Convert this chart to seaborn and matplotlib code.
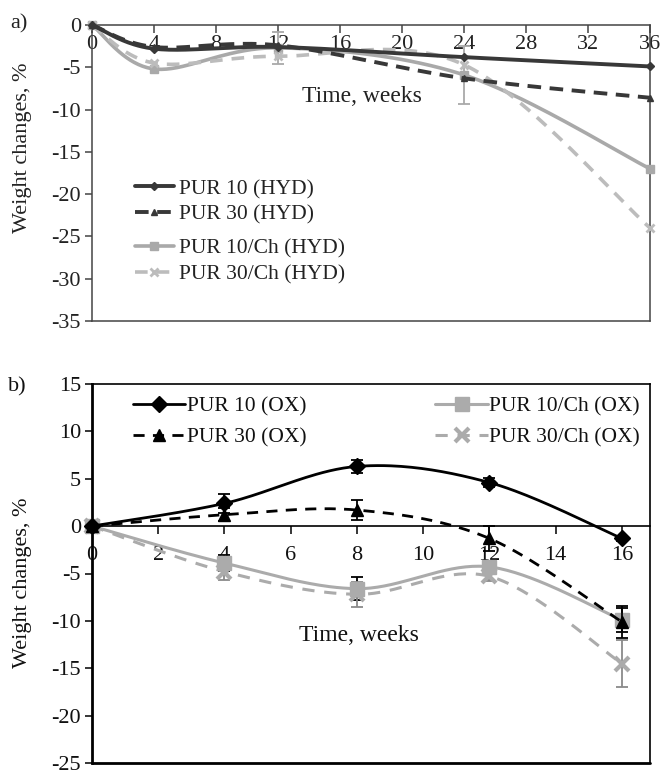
import numpy as np
import pandas as pd
import matplotlib
matplotlib.use("Agg")
import matplotlib.pyplot as plt
import seaborn as sns
from matplotlib.lines import Line2D

# ---------------- data: panel a (hydrolytic degradation) ----------------
weeks_a = [0, 4, 12, 24, 36]
pur10_hyd = [0, -2.8, -2.6, -3.8, -4.9]
pur30_hyd = [0, -2.6, -2.4, -6.3, -8.6]
pur10ch_hyd = [0, -5.2, -2.7, -5.9, -17.0]
pur30ch_hyd = [0, -4.5, -3.7, -4.7, -24.0]
err10ch_hyd = [0, 0, 1.9, 3.4, 0]
labels_a = ["PUR 10 (HYD)", "PUR 30 (HYD)", "PUR 10/Ch (HYD)", "PUR 30/Ch (HYD)"]
xticks_a = [0, 4, 8, 12, 16, 20, 24, 28, 32, 36]
yticks_a = [-35, -30, -25, -20, -15, -10, -5, 0]

# ---------------- data: panel b (oxidative degradation) ----------------
weeks_b = [0, 4, 8, 12, 16]
pur10_ox = [0, 2.4, 6.3, 4.6, -1.3]
err10_ox = [0, 1.0, 0.7, 0.5, 0.3]
pur30_ox = [0, 1.2, 1.7, -1.3, -10.1]
err30_ox = [0, 0.7, 1.1, 1.3, 1.7]
pur10ch_ox = [0, -3.9, -6.6, -4.3, -9.9]
err10ch_ox = [0, 0.8, 1.2, 0.4, 1.3]
pur30ch_ox = [0, -4.8, -7.2, -5.3, -14.5]
err30ch_ox = [0, 0.9, 1.3, 0.5, 2.5]
labels_b = ["PUR 10 (OX)", "PUR 30 (OX)", "PUR 10/Ch (OX)", "PUR 30/Ch (OX)"]
xticks_b = [0, 2, 4, 6, 8, 10, 12, 14, 16]
yticks_b = [-25, -20, -15, -10, -5, 0, 5, 10, 15]

xlabel = "Time, weeks"
ylabel = "Weight changes, %"

sns.set_theme(style="white")
plt.rcParams["font.family"] = ["Liberation Serif", "DejaVu Serif"]
plt.rcParams["axes.unicode_minus"] = False
plt.rcParams["font.size"] = 16

FS = 16
LFS = 15.5


def smooth(x, y, n=40):
    """Excel-like smoothed curve (cubic Bezier through the measured points)."""
    P = np.column_stack([x, y]).astype(float)
    m = len(P)
    out = [P[0]]
    for i in range(m - 1):
        p0 = P[i - 1] if i > 0 else P[i]
        p1, p2 = P[i], P[i + 1]
        p3 = P[i + 2] if i + 2 < m else P[i + 1]
        c1 = p1 + (p2 - p0) / 6.0
        c2 = p2 - (p3 - p1) / 6.0
        t = np.linspace(0, 1, n)[1:, None]
        seg = (1 - t) ** 3 * p1 + 3 * (1 - t) ** 2 * t * c1 + 3 * (1 - t) * t ** 2 * c2 + t ** 3 * p2
        out.extend(seg)
    return np.array(out)


def draw(ax, x, y, color, dashes, lw, marker, ms, mew, err=None, ecolor="black", z=3):
    s = smooth(x, y)
    df = pd.DataFrame({"x": s[:, 0], "y": s[:, 1]})
    sns.lineplot(data=df, x="x", y="y", ax=ax, sort=False, estimator=None,
                 color=color, lw=lw, zorder=z, legend=False)
    line = ax.lines[-1]
    if dashes is not None:
        line.set_dashes(dashes)
    line.set_clip_on(False)
    if err is not None:
        xe = [a for a, e in zip(x, err) if e > 0]
        ye = [b for b, e in zip(y, err) if e > 0]
        ee = [e for e in err if e > 0]
        ax.errorbar(xe, ye, yerr=ee, fmt="none", ecolor=ecolor, elinewidth=1.3,
                    capsize=4.5, capthick=1.3, zorder=z)
    ax.plot(x, y, linestyle="none", marker=marker, ms=ms, color=color, mec=color,
            mew=mew, zorder=z + 1, clip_on=False)


fig = plt.figure(figsize=(6.64, 7.71), dpi=100)
W, H = 664, 771


def axes_px(l, t, r, b):
    return fig.add_axes([l / W, 1 - b / H, (r - l) / W, (b - t) / H])


# ---------------- panel a ----------------
axa = axes_px(92, 25, 650, 321)
dark_a = "#383838"
gray_a = "#a9a9a9"
light_a = "#bcbcbc"
draw(axa, weeks_a, pur10ch_hyd, gray_a, None, 2.6, "s", 6, 1, err=err10ch_hyd, ecolor=gray_a, z=2)
draw(axa, weeks_a, pur30ch_hyd, light_a, (3.5, 2.5), 2.6, "x", 6, 2, z=2)
draw(axa, weeks_a, pur30_hyd, dark_a, (3.5, 2.2), 2.8, "^", 5, 1, z=3)
draw(axa, weeks_a, pur10_hyd, dark_a, None, 2.8, "D", 4.5, 1, z=3)

axa.set_xlim(0, 36)
axa.set_ylim(-35, 0)
axa.set_xticks(xticks_a)
axa.set_yticks(yticks_a)
axa.set_xlabel("")
axa.set_ylabel("")
axa.spines["bottom"].set_position(("data", 0))
axa.spines["top"].set_position(("data", -35))
for sp in axa.spines.values():
    sp.set_color("#444444")
    sp.set_linewidth(1.1)
axa.tick_params(axis="x", direction="out", length=6, width=1.1, color="#444444",
                pad=1.5, labelsize=FS, labelcolor="#222222", bottom=True)
axa.tick_params(axis="y", direction="out", length=5, width=1.1, color="#444444",
                pad=3, labelsize=FS, labelcolor="#222222", left=True)
axa.text(17.4, -8.5, xlabel, ha="center", va="center", fontsize=17, color="#222222")

h_a = [
    Line2D([], [], color=dark_a, lw=2.8, marker="D", ms=4.5),
    Line2D([], [], color=dark_a, lw=2.8, marker="^", ms=5, dashes=(3.5, 2.2)),
    Line2D([], [], color=gray_a, lw=2.6, marker="s", ms=6),
    Line2D([], [], color=light_a, lw=2.6, marker="x", ms=6, mew=2, dashes=(3.5, 2.5)),
]
common_a = dict(frameon=False, fontsize=LFS, handlelength=1.8, handletextpad=0.25,
                borderpad=0, borderaxespad=0, labelspacing=0.26, numpoints=1,
                labelcolor="#222222", loc="upper left")
lga1 = axa.legend(h_a[:2], labels_a[:2], bbox_to_anchor=(0.077, 0.48), **common_a)
axa.add_artist(lga1)
axa.legend(h_a[2:], labels_a[2:], bbox_to_anchor=(0.077, 0.278), **common_a)

# ---------------- panel b ----------------
axb = axes_px(92, 384, 650, 763)
gray_b = "#ababab"
draw(axb, weeks_b, pur10ch_ox, gray_b, None, 2.2, "s", 10, 1, err=err10ch_ox, z=2)
draw(axb, weeks_b, pur30ch_ox, gray_b, (4, 3.2), 2.2, "x", 10, 3, err=err30ch_ox,
     ecolor="#8a8a8a", z=2)
draw(axb, weeks_b, pur30_ox, "black", (4, 3), 2.0, "^", 9, 1, err=err30_ox, z=3)
draw(axb, weeks_b, pur10_ox, "black", None, 2.0, "D", 8, 1, err=err10_ox, z=3)

axb.set_xlim(0, 16.85)
axb.set_ylim(-25, 15)
axb.set_xticks(xticks_b)
axb.set_yticks(yticks_b)
axb.set_xlabel("")
axb.set_ylabel("")
axb.spines["bottom"].set_position(("data", 0))
for sp in axb.spines.values():
    sp.set_color("black")
    sp.set_linewidth(1.2)
axb.axhline(-25, color="black", lw=2.0, clip_on=False, zorder=5)
axb.spines["left"].set_linewidth(2.0)
axb.tick_params(axis="x", direction="out", length=6, width=1.1, color="black",
                pad=8, labelsize=FS, labelcolor="#111111", bottom=True)
axb.tick_params(axis="y", direction="out", length=5, width=1.1, color="black",
                pad=3, labelsize=FS, labelcolor="#111111", left=True)
axb.text(8.07, -11.5, xlabel, ha="center", va="center", fontsize=17, color="#111111")

h_b = [
    Line2D([], [], color="black", lw=2.0, marker="D", ms=8),
    Line2D([], [], color="black", lw=2.0, marker="^", ms=9, dashes=(4, 3)),
    Line2D([], [], color=gray_b, lw=2.2, marker="s", ms=10),
    Line2D([], [], color=gray_b, lw=2.2, marker="x", ms=10, mew=3, dashes=(4, 3.2)),
]
common_b = dict(frameon=False, fontsize=LFS, handlelength=2.45, handletextpad=0.05,
                borderpad=0, borderaxespad=0, labelspacing=0.5, numpoints=1,
                labelcolor="#111111", loc="upper left")
lgb1 = axb.legend(h_b[:2], labels_b[:2], bbox_to_anchor=(0.073, 0.966), **common_b)
axb.add_artist(lgb1)
axb.legend(h_b[2:], labels_b[2:], bbox_to_anchor=(0.615, 0.966), **common_b)

# ---------------- figure texts ----------------
fig.text(23 / W, 1 - 148 / H, ylabel, rotation=90, ha="center", va="center",
         fontsize=FS, color="#222222")
fig.text(23 / W, 1 - 583 / H, ylabel, rotation=90, ha="center", va="center",
         fontsize=FS, color="#111111")
fig.text(10 / W, 1 - 24 / H, "a)", ha="left", va="center", fontsize=FS, color="#222222")
fig.text(8 / W, 1 - 387 / H, "b)", ha="left", va="center", fontsize=FS, color="#111111")

fig.savefig("out.png", dpi=100)
